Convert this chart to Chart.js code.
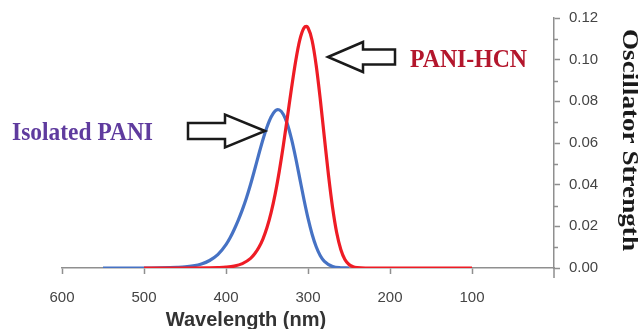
<!DOCTYPE html>
<html>
<head>
<meta charset="utf-8">
<script src="https://cdn.jsdelivr.net/npm/chart.js@4/dist/chart.umd.min.js"></script>
<style>
  body { margin: 0; background: #fff; }
</style>
</head>
<body>
<canvas id="spectrum" width="638" height="329"></canvas>
<script>
// values (wavelength in nm, oscillator strength)
const isolatedNm = [550, 500, 480, 460, 450, 440, 430, 420, 410, 400, 395, 390, 385, 380, 375, 370, 365, 360, 355, 350, 345, 340, 337, 335, 330, 325, 320, 315, 310, 305, 300, 295, 290, 285, 280, 270, 260, 250];
const isolatedF = [0, 0, 0.0001, 0.0003, 0.0005, 0.0010, 0.0019, 0.0036, 0.0064, 0.0112, 0.0145, 0.0185, 0.0230, 0.0280, 0.0337, 0.0402, 0.0473, 0.0546, 0.0616, 0.0677, 0.0725, 0.0754, 0.0760, 0.0759, 0.0737, 0.0689, 0.0617, 0.0528, 0.0429, 0.0330, 0.0239, 0.0162, 0.0102, 0.0059, 0.0032, 0.0007, 0.0001, 0];

const hcnNm = [500, 450, 420, 410, 400, 390, 380, 370, 365, 360, 355, 350, 345, 340, 335, 330, 325, 320, 315, 310, 305, 302, 300, 295, 290, 285, 280, 275, 270, 265, 260, 255, 250, 245, 240, 230, 100];
const hcnF = [0, 0, 0.0001, 0.0002, 0.0004, 0.0009, 0.0021, 0.0046, 0.0068, 0.0098, 0.0139, 0.0194, 0.0266, 0.0356, 0.0465, 0.0590, 0.0727, 0.0866, 0.0994, 0.1095, 0.1152, 0.1160, 0.1153, 0.1092, 0.0972, 0.0809, 0.0625, 0.0445, 0.0289, 0.0169, 0.0089, 0.0041, 0.0017, 0.0006, 0.0002, 0, 0];

const xTicks = [600, 500, 400, 300, 200, 100];
const yMajorTicks = [0, 0.02, 0.04, 0.06, 0.08, 0.10, 0.12];
const yMinorTicks = [0.01, 0.03, 0.05, 0.07, 0.09, 0.11];

const axisColor = '#8f8f8f';

function drawArrow(ctx, tipX, tipY, len, headLen, headHalf, shaftHalf, dir) {
  const hb = tipX - dir * headLen;
  const tail = tipX - dir * len;
  ctx.beginPath();
  ctx.moveTo(tipX, tipY);
  ctx.lineTo(hb, tipY - headHalf);
  ctx.lineTo(hb, tipY - shaftHalf);
  ctx.lineTo(tail, tipY - shaftHalf);
  ctx.lineTo(tail, tipY + shaftHalf);
  ctx.lineTo(hb, tipY + shaftHalf);
  ctx.lineTo(hb, tipY + headHalf);
  ctx.closePath();
  ctx.fillStyle = '#fff';
  ctx.fill();
  ctx.lineWidth = 2.5;
  ctx.lineJoin = 'miter';
  ctx.strokeStyle = '#1a1a1a';
  ctx.stroke();
}

const annotate = {
  id: 'annotate',
  afterDraw(chart) {
    const ctx = chart.ctx;
    const area = chart.chartArea;
    const y = chart.scales.y;
    ctx.save();

    // minor ticks on the right axis and the little stub below it
    ctx.strokeStyle = axisColor;
    ctx.lineWidth = 1.5;
    ctx.beginPath();
    yMinorTicks.forEach(v => {
      const py = Math.round(y.getPixelForValue(v)) + 0.5;
      ctx.moveTo(area.right, py);
      ctx.lineTo(area.right + 4, py);
    });
    ctx.moveTo(area.right, area.bottom);
    ctx.lineTo(area.right, area.bottom + 10);
    ctx.stroke();

    drawArrow(ctx, 265, 131, 77, 40, 16.5, 8, 1);
    drawArrow(ctx, 328, 57, 67, 35, 15, 7.5, -1);

    ctx.textAlign = 'left';
    ctx.textBaseline = 'alphabetic';
    ctx.font = 'bold 25px "Liberation Serif"';
    ctx.fillStyle = '#5f3b9e';
    ctx.fillText('Isolated PANI', 12, 140, 141);
    ctx.font = 'bold 26px "Liberation Serif"';
    ctx.fillStyle = '#b3162c';
    ctx.fillText('PANI-HCN', 410, 67, 117);

    ctx.font = 'bold 20px "Liberation Sans"';
    ctx.fillStyle = '#333';
    ctx.textAlign = 'center';
    ctx.fillText('Wavelength (nm)', 246, 326, 168);

    ctx.translate(623, 140);
    ctx.rotate(Math.PI / 2);
    ctx.font = 'bold 24px "Liberation Serif"';
    const w = ctx.measureText('Oscillator Strength').width;
    ctx.scale(222 / w, 1);
    ctx.fillStyle = '#1a1a1a';
    ctx.fillText('Oscillator Strength', 0, 0);
    ctx.restore();
  }
};

new Chart(document.getElementById('spectrum'), {
  type: 'line',
  data: {
    datasets: [{
      label: 'PANI-HCN',
      data: hcnNm.map((nm, i) => ({ x: nm, y: hcnF[i] })),
      borderColor: '#ee1c25',
      borderWidth: 3.2,
      pointRadius: 0,
      cubicInterpolationMode: 'monotone',
      order: 0
    }, {
      label: 'Isolated PANI',
      data: isolatedNm.map((nm, i) => ({ x: nm, y: isolatedF[i] })),
      borderColor: '#4672c4',
      borderWidth: 3.2,
      pointRadius: 0,
      cubicInterpolationMode: 'monotone',
      order: 1
    }]
  },
  options: {
    responsive: false,
    animation: false,
    layout: { padding: { left: 62, top: 17, right: 0, bottom: 0 } },
    plugins: {
      legend: { display: false },
      tooltip: { enabled: false }
    },
    scales: {
      x: {
        type: 'linear',
        reverse: true,
        min: 0,
        max: 600,
        afterBuildTicks: scale => { scale.ticks = xTicks.map(v => ({ value: v })); },
        afterFit: scale => { scale.height = 61; },
        ticks: {
          color: '#444',
          font: { family: 'Liberation Sans', size: 15 },
          padding: 15,
          maxRotation: 0
        },
        grid: { drawOnChartArea: false, tickLength: 6, color: axisColor, tickWidth: 1.5 },
        border: { color: axisColor, width: 1.5 }
      },
      y: {
        position: 'right',
        min: 0,
        max: 0.12,
        afterBuildTicks: scale => { scale.ticks = yMajorTicks.map(v => ({ value: v })); },
        afterFit: scale => { scale.width = 84; },
        ticks: {
          color: '#444',
          font: { family: 'Liberation Sans', size: 15 },
          padding: 9,
          callback: v => v.toFixed(2)
        },
        grid: { drawOnChartArea: false, tickLength: 6, color: axisColor, tickWidth: 1.5 },
        border: { color: axisColor, width: 1.5 }
      }
    }
  },
  plugins: [annotate]
});
</script>
</body>
</html>
